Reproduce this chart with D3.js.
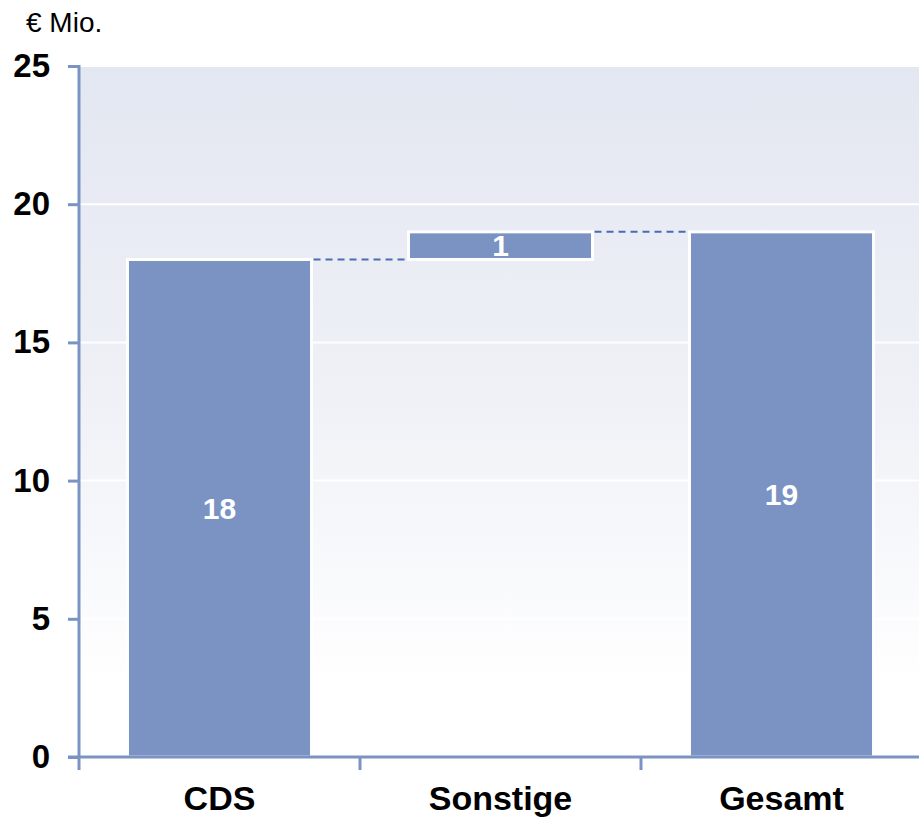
<!DOCTYPE html>
<html>
<head>
<meta charset="utf-8">
<script src="https://cdn.jsdelivr.net/npm/d3@7"></script>
<style>
  body { margin: 0; background: #fff; }
  text { font-family: "Liberation Sans", Arial, sans-serif; }
</style>
</head>
<body>
<div id="chart"></div>
<script>
// Waterfall data
const categories = ["CDS", "Sonstige", "Gesamt"]
const starts = [0, 18, 0]
const values = [18, 1, 19]
const yTicks = [0, 5, 10, 15, 20, 25]

const width = 919, height = 821
const margin = {top: 66, right: 0, bottom: 64, left: 79}

const svg = d3.select("#chart")
  .append("svg")
  .attr("width", width)
  .attr("height", height)

// band slightly wider than the visible area, as in the original
const x = d3.scaleBand()
  .domain(categories)
  .range([margin.left, width + 3])
  .padding(0)

const y = d3.scaleLinear()
  .domain([0, 25])
  .range([height - margin.bottom, margin.top])

const axisColor = "#7b93c3"
const barColor = "#7a93c2"

// background gradient
const defs = svg.append("defs")
const grad = defs.append("linearGradient")
  .attr("id", "bg")
  .attr("x1", 0).attr("y1", 0).attr("x2", 0).attr("y2", 1)
grad.append("stop").attr("offset", "0%").attr("stop-color", "#e3e7f1")
grad.append("stop").attr("offset", "45%").attr("stop-color", "#eef0f6")
grad.append("stop").attr("offset", "90%").attr("stop-color", "#ffffff")

svg.append("rect")
  .attr("x", margin.left)
  .attr("y", y(25))
  .attr("width", width - margin.right - margin.left)
  .attr("height", y(0) - y(25))
  .attr("fill", "url(#bg)")

// white gridlines
svg.selectAll(".grid")
  .data(yTicks.filter(d => d > 0))
  .join("line")
  .attr("x1", margin.left)
  .attr("x2", width)
  .attr("y1", d => y(d))
  .attr("y2", d => y(d))
  .attr("stroke", "#fff")
  .attr("stroke-width", 2)

// bars
const barW = x.bandwidth() * 0.655
const bars = categories.map((c, i) => ({cat: c, start: starts[i], value: values[i]}))

svg.selectAll(".bar")
  .data(bars)
  .join("rect")
  .attr("x", d => x(d.cat) + (x.bandwidth() - barW) / 2)
  .attr("y", d => y(d.start + d.value))
  .attr("width", barW)
  .attr("height", d => y(d.start) - y(d.start + d.value))
  .attr("fill", barColor)
  .attr("stroke", "#fff")
  .attr("stroke-width", 3)

// dashed connectors
for (let i = 0; i < bars.length - 1; i++) {
  const level = bars[i].start + bars[i].value
  svg.append("line")
    .attr("x1", x(bars[i].cat) + (x.bandwidth() + barW) / 2 + 2)
    .attr("x2", x(bars[i + 1].cat) + (x.bandwidth() - barW) / 2 - 2)
    .attr("y1", y(level))
    .attr("y2", y(level))
    .attr("stroke", "#4a6cb2")
    .attr("stroke-width", 2)
    .attr("stroke-dasharray", "7,5")
}

// value labels
svg.selectAll(".val")
  .data(bars)
  .join("text")
  .attr("x", d => x(d.cat) + x.bandwidth() / 2)
  .attr("y", d => y(d.start + d.value / 2))
  .attr("dy", "0.36em")
  .attr("text-anchor", "middle")
  .attr("fill", "#fff")
  .attr("font-weight", "bold")
  .attr("font-size", 30)
  .text(d => d.value)

// y axis
const yAxis = svg.append("g")
  .attr("transform", `translate(${margin.left},0)`)
  .call(d3.axisLeft(y).tickValues(yTicks).tickSize(11).tickPadding(18))
yAxis.select(".domain").remove()
yAxis.append("line")
  .attr("x1", 0).attr("x2", 0)
  .attr("y1", y(25) - 1).attr("y2", y(0) + 13)
  .attr("stroke", axisColor).attr("stroke-width", 3)
yAxis.selectAll(".tick line").attr("stroke", axisColor).attr("stroke-width", 3)
yAxis.selectAll(".tick text")
  .attr("fill", "#000")
  .attr("font-size", 33)
  .attr("font-weight", "bold")
  .attr("font-family", "'Liberation Sans', Arial, sans-serif")

// x axis
const xAxis = svg.append("g")
  .attr("transform", `translate(0,${y(0)})`)
xAxis.append("line")
  .attr("x1", margin.left - 11).attr("x2", width)
  .attr("y1", 0).attr("y2", 0)
  .attr("stroke", axisColor).attr("stroke-width", 3)
xAxis.selectAll(".xtick")
  .data(categories.slice(1))
  .join("line")
  .attr("x1", d => x(d)).attr("x2", d => x(d))
  .attr("y1", 0).attr("y2", 13)
  .attr("stroke", axisColor).attr("stroke-width", 3)
xAxis.selectAll(".xlab")
  .data(categories)
  .join("text")
  .attr("x", d => x(d) + x.bandwidth() / 2)
  .attr("y", 53)
  .attr("text-anchor", "middle")
  .attr("fill", "#000")
  .attr("font-size", 34)
  .attr("font-weight", "bold")
  .text(d => d)

// unit label
svg.append("text")
  .attr("x", 26)
  .attr("y", 32)
  .attr("font-size", 28)
  .attr("fill", "#000")
  .text("€ Mio.")
</script>
</body>
</html>
